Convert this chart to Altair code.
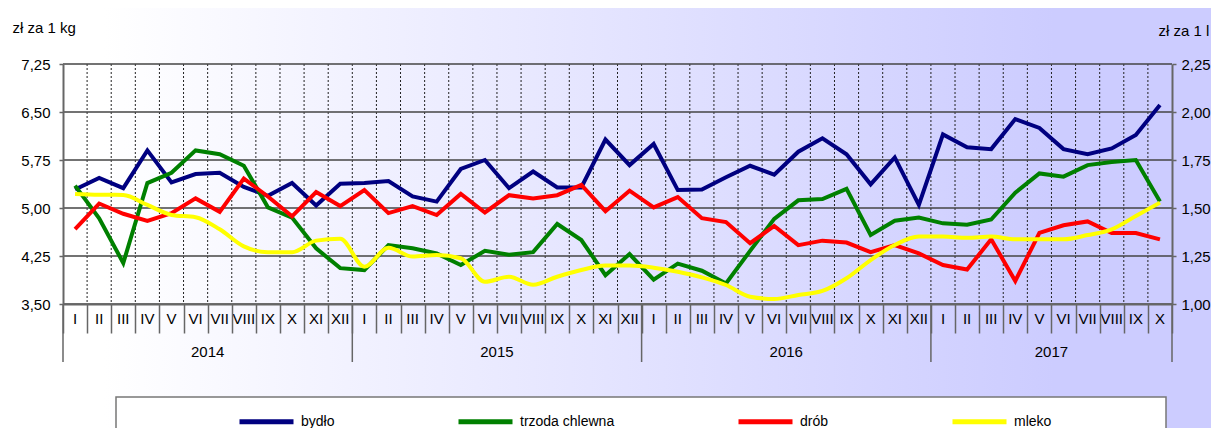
import altair as alt
import pandas as pd

months_roman = ["I", "II", "III", "IV", "V", "VI", "VII", "VIII", "IX", "X", "XI", "XII"]
years = ["2014", "2015", "2016", "2017"]
year_centers = [6, 18, 30, 41]
year_bounds = [0, 12, 24, 36, 46]

series_names = ["bydło", "trzoda chlewna", "drób", "mleko"]
series_colors = ["#000080", "#008000", "#ff0000", "#ffff00"]

bydlo = [5.29, 5.47, 5.31, 5.90, 5.40, 5.53, 5.55, 5.33, 5.19, 5.39, 5.04, 5.38,
         5.39, 5.42, 5.18, 5.10, 5.61, 5.75, 5.31, 5.57, 5.32, 5.32, 6.07, 5.67,
         6.00, 5.28, 5.29, 5.48, 5.66, 5.52, 5.88, 6.09, 5.84, 5.37, 5.79, 5.05,
         6.15, 5.95, 5.92, 6.39, 6.25, 5.92, 5.84, 5.93, 6.14, 6.61]
trzoda = [5.35, 4.84, 4.14, 5.39, 5.55, 5.90, 5.84, 5.66, 5.01, 4.85, 4.37, 4.06,
          4.03, 4.42, 4.37, 4.29, 4.11, 4.33, 4.27, 4.31, 4.75, 4.50, 3.95, 4.28,
          3.88, 4.13, 4.02, 3.82, 4.33, 4.83, 5.12, 5.14, 5.30, 4.58, 4.80, 4.85,
          4.76, 4.74, 4.82, 5.24, 5.54, 5.49, 5.67, 5.72, 5.75, 5.10]
drob = [4.67, 5.07, 4.91, 4.80, 4.92, 5.15, 4.94, 5.46, 5.18, 4.87, 5.25, 5.03,
        5.28, 4.92, 5.03, 4.89, 5.22, 4.93, 5.20, 5.15, 5.20, 5.36, 4.95, 5.27,
        5.01, 5.17, 4.84, 4.78, 4.45, 4.72, 4.42, 4.49, 4.46, 4.31, 4.42, 4.29,
        4.11, 4.04, 4.51, 3.86, 4.61, 4.73, 4.79, 4.61, 4.61, 4.51]
mleko = [1.573, 1.569, 1.568, 1.516, 1.464, 1.452, 1.389, 1.300, 1.270, 1.270, 1.330, 1.340,
         1.194, 1.293, 1.247, 1.255, 1.238, 1.116, 1.142, 1.100, 1.142, 1.177, 1.200, 1.200,
         1.189, 1.168, 1.139, 1.099, 1.038, 1.026, 1.047, 1.068, 1.134, 1.229, 1.307, 1.351,
         1.351, 1.345, 1.351, 1.337, 1.337, 1.337, 1.359, 1.389, 1.458, 1.528]

left_ticks = [3.50, 4.25, 5.00, 5.75, 6.50, 7.25]
right_ticks = [1.00, 1.25, 1.50, 1.75, 2.00, 2.25]

n = len(bydlo)
t = [i + 0.5 for i in range(n)]
month_labels = [months_roman[i % 12] for i in range(n)]

left_df = pd.DataFrame({
    "t": t * 3,
    "value": bydlo + trzoda + drob,
    "series": [series_names[0]] * n + [series_names[1]] * n + [series_names[2]] * n,
})
right_df = pd.DataFrame({"t": t, "value": mleko, "series": [series_names[3]] * n})
month_df = pd.DataFrame({"t": t, "label": month_labels})
year_df = pd.DataFrame({"t": year_centers, "label": years})
ybound_df = pd.DataFrame({"t": year_bounds})
vgrid_df = pd.DataFrame({"t": list(range(1, n))})
hgrid_df = pd.DataFrame({"g": left_ticks})

W, H = 1109, 240
FONT = "Liberation Sans"
label_expr = "replace(format(datum.value, '.2f'), '.', ',')"

xscale = alt.Scale(domain=[0, n], nice=False, zero=False)
xaxis = alt.Axis(values=list(range(0, n + 1)), labels=False, title=None,
                 grid=False, ticks=True, tickSize=29, tickColor="#666666", tickWidth=1.5,
                 domainColor="#666666", domainWidth=2, zindex=1)
x_enc = alt.X("t:Q", scale=xscale, axis=xaxis)

color_enc = alt.Color(
    "series:N",
    scale=alt.Scale(domain=series_names, range=series_colors),
    legend=alt.Legend(title=None, orient="none", legendX=174, legendY=328,
                      direction="horizontal", symbolType="stroke", symbolSize=2916,
                      symbolStrokeWidth=5, labelFontSize=14, labelFont=FONT,
                      labelColor="black", columnPadding=113, labelOffset=5,
                      padding=0, labelLimit=300),
)

bg = alt.Chart(pd.DataFrame({"a": [0]})).mark_rect(
    color=alt.LinearGradient(
        gradient="linear",
        stops=[alt.GradientStop(color="#ffffff", offset=0),
               alt.GradientStop(color="#ffffff", offset=0.08),
               alt.GradientStop(color="#ccccff", offset=0.87),
               alt.GradientStop(color="#ccccff", offset=1)],
        x1=0, x2=1, y1=0, y2=0),
).encode(x=alt.value(-55), x2=alt.value(W + 39), y=alt.value(-56), y2=alt.value(H + 124))

frame = alt.Chart(pd.DataFrame({"a": [0]})).mark_rect(
    fill="white", stroke="#777777", strokeWidth=1.5
).encode(x=alt.value(53), x2=alt.value(1103), y=alt.value(333), y2=alt.value(H + 140))

vgrid = alt.Chart(vgrid_df).mark_rule(color="#222222", strokeWidth=1, strokeDash=[2, 2]).encode(
    x=x_enc, y=alt.value(0), y2=alt.value(H))

hgrid = alt.Chart(hgrid_df).mark_rule(color="#444444", strokeWidth=1.3).encode(
    y=alt.Y("g:Q", scale=alt.Scale(domain=[3.5, 7.25], nice=False, zero=False), axis=None),
    x=alt.value(0), x2=alt.value(W))

left_lines = alt.Chart(left_df).mark_line(strokeWidth=4).encode(
    x=x_enc,
    y=alt.Y("value:Q", scale=alt.Scale(domain=[3.5, 7.25], nice=False, zero=False),
            axis=alt.Axis(orient="left", values=left_ticks, labelExpr=label_expr,
                          grid=False, zindex=1,
                          ticks=True, tickSize=4, tickColor="#666666", tickWidth=1.5,
                          domainColor="#666666", domainWidth=2,
                          labelFontSize=15, labelFont=FONT, labelColor="black",
                          labelPadding=9, title="zł za 1 kg", titleAngle=0,
                          titleAlign="left", titleBaseline="middle", titleX=-51,
                          titleY=-37, titleFontSize=15, titleFont=FONT,
                          titleFontWeight="normal", titleColor="black")),
    color=color_enc,
)

right_line = alt.Chart(right_df).mark_line(strokeWidth=4, interpolate="monotone").encode(
    x=x_enc,
    y=alt.Y("value:Q", scale=alt.Scale(domain=[1.0, 2.25], nice=False, zero=False),
            axis=alt.Axis(orient="right", values=right_ticks, labelExpr=label_expr,
                          grid=False, zindex=1, ticks=True, tickSize=4, tickColor="#666666",
                          tickWidth=1.5, domainColor="#666666", domainWidth=2,
                          labelFontSize=15, labelFont=FONT, labelColor="black",
                          labelPadding=5, title="zł za 1 l", titleAngle=0,
                          titleAlign="left", titleBaseline="middle", titleX=-14,
                          titleY=-34, titleFontSize=15, titleFont=FONT,
                          titleFontWeight="normal", titleColor="black")),
    color=color_enc,
)

months_text = alt.Chart(month_df).mark_text(
    fontSize=15, font=FONT, color="black", baseline="middle", align="center"
).encode(x=x_enc, y=alt.value(H + 15), text="label:N")

years_text = alt.Chart(year_df).mark_text(
    fontSize=15, font=FONT, color="black", baseline="middle", align="center"
).encode(x=x_enc, y=alt.value(H + 48), text="label:N")

year_rules = alt.Chart(ybound_df).mark_rule(color="#666666", strokeWidth=1.5).encode(
    x=x_enc, y=alt.value(H), y2=alt.value(H + 58))

chart = alt.layer(
    bg, frame, vgrid, hgrid, left_lines, right_line, months_text, years_text, year_rules
).resolve_scale(y="independent").properties(
    width=W, height=H,
    autosize=alt.AutoSizeParams(type="none"),
    padding={"left": 55, "top": 56, "right": 39, "bottom": 124},
    background="white",
).configure(font=FONT).configure_view(stroke=None)

chart.save("out.html", embed_options={"renderer": "svg", "actions": False})
